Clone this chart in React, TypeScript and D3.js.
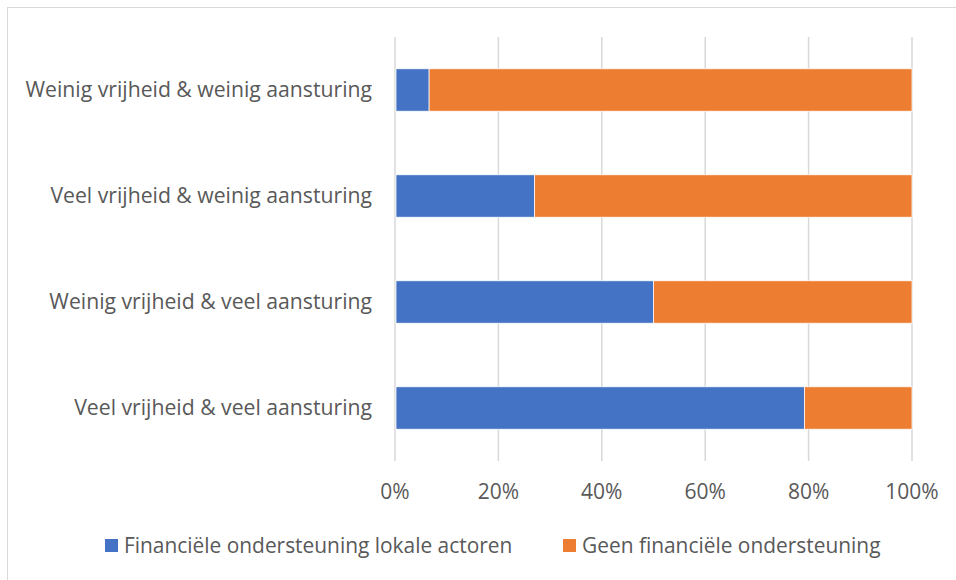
import React, { useEffect, useRef } from 'react';
import * as d3 from 'd3';

// categories top to bottom
const categories = [
  'Weinig vrijheid & weinig aansturing',
  'Veel vrijheid & weinig aansturing',
  'Weinig vrijheid & veel aansturing',
  'Veel vrijheid & veel aansturing',
];
const seriesNames = ['Financiële ondersteuning lokale actoren', 'Geen financiële ondersteuning'];
const financieel = [0.066, 0.27, 0.5, 0.792];
const geen = [0.934, 0.73, 0.5, 0.208];
const colors = ['#4472C4', '#ED7D31'];
const ticks = [0, 0.2, 0.4, 0.6, 0.8, 1];

const FONT = '"Open Sans", Lato, sans-serif';

const App = () => {
  const ref = useRef<SVGSVGElement>(null);

  useEffect(() => {
    if (!ref.current) return;
    const svg = d3.select(ref.current);
    svg.selectAll('*').remove();

    // chart border (only top/left visible in the crop)
    svg.append('rect')
      .attr('x', 7.5).attr('y', 7.5)
      .attr('width', 1000).attr('height', 1000)
      .attr('fill', '#fff').attr('stroke', '#d9d9d9');

    const x = d3.scaleLinear().domain([0, 1]).range([395, 912]);
    const y = d3.scaleBand().domain(categories).range([37, 461]).paddingInner(0.6).paddingOuter(0.3);

    // vertical gridlines
    svg.append('g').selectAll('line').data(ticks).enter().append('line')
      .attr('x1', d => x(d)).attr('x2', d => x(d))
      .attr('y1', 37).attr('y2', 461)
      .attr('stroke', '#d9d9d9').attr('stroke-width', 1.5);

    // stacked bars
    const rows = categories.map((c, i) => ({ c, a: financieel[i], b: geen[i] }));
    const g = svg.append('g');
    g.selectAll('.fin').data(rows).enter().append('rect')
      .attr('x', x(0) + 1).attr('y', d => y(d.c)!)
      .attr('width', d => x(d.a) - x(0) - 1).attr('height', y.bandwidth())
      .attr('fill', colors[0]).attr('stroke', '#fff').attr('stroke-width', 0.75);
    g.selectAll('.geen').data(rows).enter().append('rect')
      .attr('x', d => x(d.a)).attr('y', d => y(d.c)!)
      .attr('width', d => x(d.a + d.b) - x(d.a)).attr('height', y.bandwidth())
      .attr('fill', colors[1]).attr('stroke', '#fff').attr('stroke-width', 0.75);

    // category labels
    svg.append('g').selectAll('text').data(categories).enter().append('text')
      .attr('x', 372).attr('y', d => y(d)! + y.bandwidth() / 2)
      .attr('dy', '0.35em').attr('text-anchor', 'end')
      .attr('font-family', FONT).attr('font-size', 21.2).attr('fill', '#595959')
      .text(d => d);

    // tick labels
    svg.append('g').selectAll('text').data(ticks).enter().append('text')
      .attr('x', d => x(d)).attr('y', 492).attr('dy', '0.35em')
      .attr('text-anchor', 'middle')
      .attr('font-family', FONT).attr('font-size', 21).attr('fill', '#595959')
      .text(d => d3.format('.0%')(d));

    // legend
    const legendX = [105, 563];
    const leg = svg.append('g').selectAll('g').data(seriesNames).enter().append('g')
      .attr('transform', (d, i) => `translate(${legendX[i]},539)`);
    leg.append('rect').attr('width', 13).attr('height', 13).attr('fill', (d, i) => colors[i]);
    leg.append('text').attr('x', 19).attr('y', 7).attr('dy', '0.35em')
      .attr('font-family', FONT).attr('font-size', 20.9).attr('fill', '#595959')
      .text(d => d);
  }, []);

  return <svg ref={ref} width={956} height={580} style={{ position: 'absolute', left: 0, top: 0 }} />;
};

export default App;
